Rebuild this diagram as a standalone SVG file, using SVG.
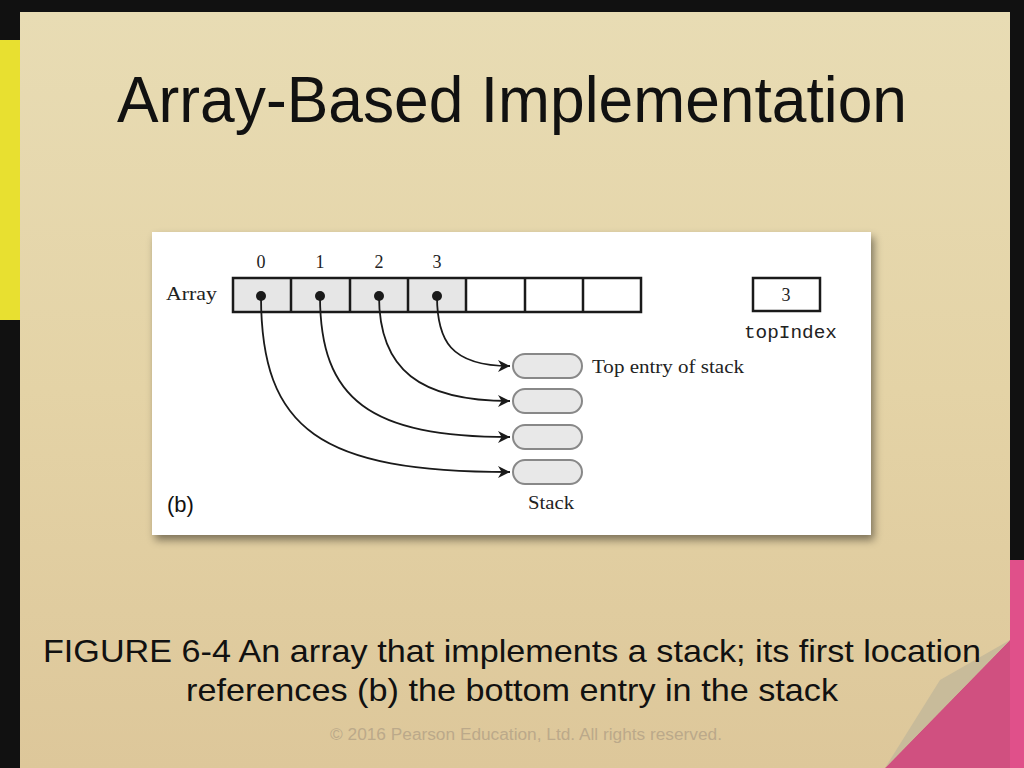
<svg xmlns="http://www.w3.org/2000/svg" width="1024" height="768" viewBox="0 0 1024 768">
<defs>
<linearGradient id="bg" x1="0" y1="0" x2="0" y2="1">
<stop offset="0" stop-color="#e8dcb4"/><stop offset="0.5" stop-color="#e4d3a6"/><stop offset="1" stop-color="#ddc79a"/>
</linearGradient>
<marker id="ah" viewBox="0 0 10 10" refX="10" refY="5" markerWidth="13" markerHeight="12" markerUnits="userSpaceOnUse" orient="auto">
<path d="M0,0 L10,5 L0,10 L3,5 z" fill="#1a1a1a"/>
</marker>
<filter id="sh" x="-5%" y="-5%" width="110%" height="115%"><feDropShadow dx="3" dy="5" stdDeviation="4" flood-opacity="0.45"/></filter>
</defs>
<style>
.cell{stroke:#1a1a1a;stroke-width:2.5}
.ser{font-family:"Liberation Serif",serif;fill:#222}
.conn{fill:none;stroke:#1a1a1a;stroke-width:1.8}
.oval{fill:#e8e8e8;stroke:#888;stroke-width:2}
.dot{fill:#1a1a1a}
</style>
<rect width="1024" height="768" fill="#111"/>
<rect x="0" y="40" width="20" height="280" fill="#e8e030"/>
<rect x="1005" y="560" width="19" height="208" fill="#e0508a"/>
<rect x="20" y="12" width="990" height="756" fill="url(#bg)"/>
<polygon points="885,768 1010,640 1010,768" fill="#d05080"/>
<polygon points="885,768 940,680 1010,640" fill="#c8bb9a"/>
<text x="512" y="122" font-family="Liberation Sans, sans-serif" font-size="64" text-anchor="middle" textLength="790" lengthAdjust="spacingAndGlyphs" fill="#111">Array-Based Implementation</text>
<rect x="152" y="232" width="719" height="303" fill="#fff" filter="url(#sh)"/>
<g id="array">
<rect x="233" y="278" width="233" height="34" fill="#e6e6e6"/>
<rect x="233" y="278" width="408" height="34" fill="none" class="cell"/>
<path d="M291,278V312M350,278V312M408,278V312M466,278V312M525,278V312M583,278V312" class="cell"/>
<text x="166" y="300" class="ser" font-size="19" textLength="51" lengthAdjust="spacingAndGlyphs">Array</text>
<g class="ser" font-size="18" text-anchor="middle"><text x="261" y="268">0</text><text x="320" y="268">1</text><text x="379" y="268">2</text><text x="437" y="268">3</text></g>
<circle cx="261" cy="296" r="5" class="dot"/><circle cx="320" cy="296" r="5" class="dot"/><circle cx="379" cy="296" r="5" class="dot"/><circle cx="437" cy="296" r="5" class="dot"/>
</g>
<g id="topIndex">
<rect x="753" y="278" width="67" height="33" fill="#fff" class="cell"/>
<text x="786" y="301" class="ser" font-size="18" text-anchor="middle">3</text>
<text x="744" y="338" font-family="Liberation Mono, monospace" font-size="19" fill="#222" textLength="93" lengthAdjust="spacingAndGlyphs">topIndex</text>
</g>
<g id="stack">
<rect x="513" y="354" width="69" height="24" rx="12" class="oval"/>
<rect x="513" y="389" width="69" height="24" rx="12" class="oval"/>
<rect x="513" y="425" width="69" height="24" rx="12" class="oval"/>
<rect x="513" y="460" width="69" height="24" rx="12" class="oval"/>
<text x="592" y="373" class="ser" font-size="19" textLength="152" lengthAdjust="spacingAndGlyphs">Top entry of stack</text>
<text x="528" y="509" class="ser" font-size="19" textLength="46" lengthAdjust="spacingAndGlyphs">Stack</text>
</g>
<g id="connectors">
<path d="M437,296 C437,340 450,366 510,366" class="conn" marker-end="url(#ah)"/>
<path d="M379,296 C379,370 420,401 510,401" class="conn" marker-end="url(#ah)"/>
<path d="M320,296 C320,400 370,437 510,437" class="conn" marker-end="url(#ah)"/>
<path d="M261,296 C261,430 320,472 510,472" class="conn" marker-end="url(#ah)"/>
</g>
<text x="167" y="512" font-family="Liberation Sans, sans-serif" font-size="22" fill="#111">(b)</text>
<g font-family="Liberation Sans, sans-serif" font-size="32" fill="#111" text-anchor="middle">
<text x="512" y="662" textLength="938" lengthAdjust="spacingAndGlyphs">FIGURE 6-4 An array that implements a stack; its first location</text>
<text x="512" y="701" textLength="652" lengthAdjust="spacingAndGlyphs">references (b) the bottom entry in the stack</text>
</g>
<text x="526" y="740" font-family="Liberation Sans, sans-serif" font-size="16" fill="#bba98a" text-anchor="middle" textLength="392" lengthAdjust="spacingAndGlyphs">© 2016 Pearson Education, Ltd.  All rights reserved.</text>
</svg>
